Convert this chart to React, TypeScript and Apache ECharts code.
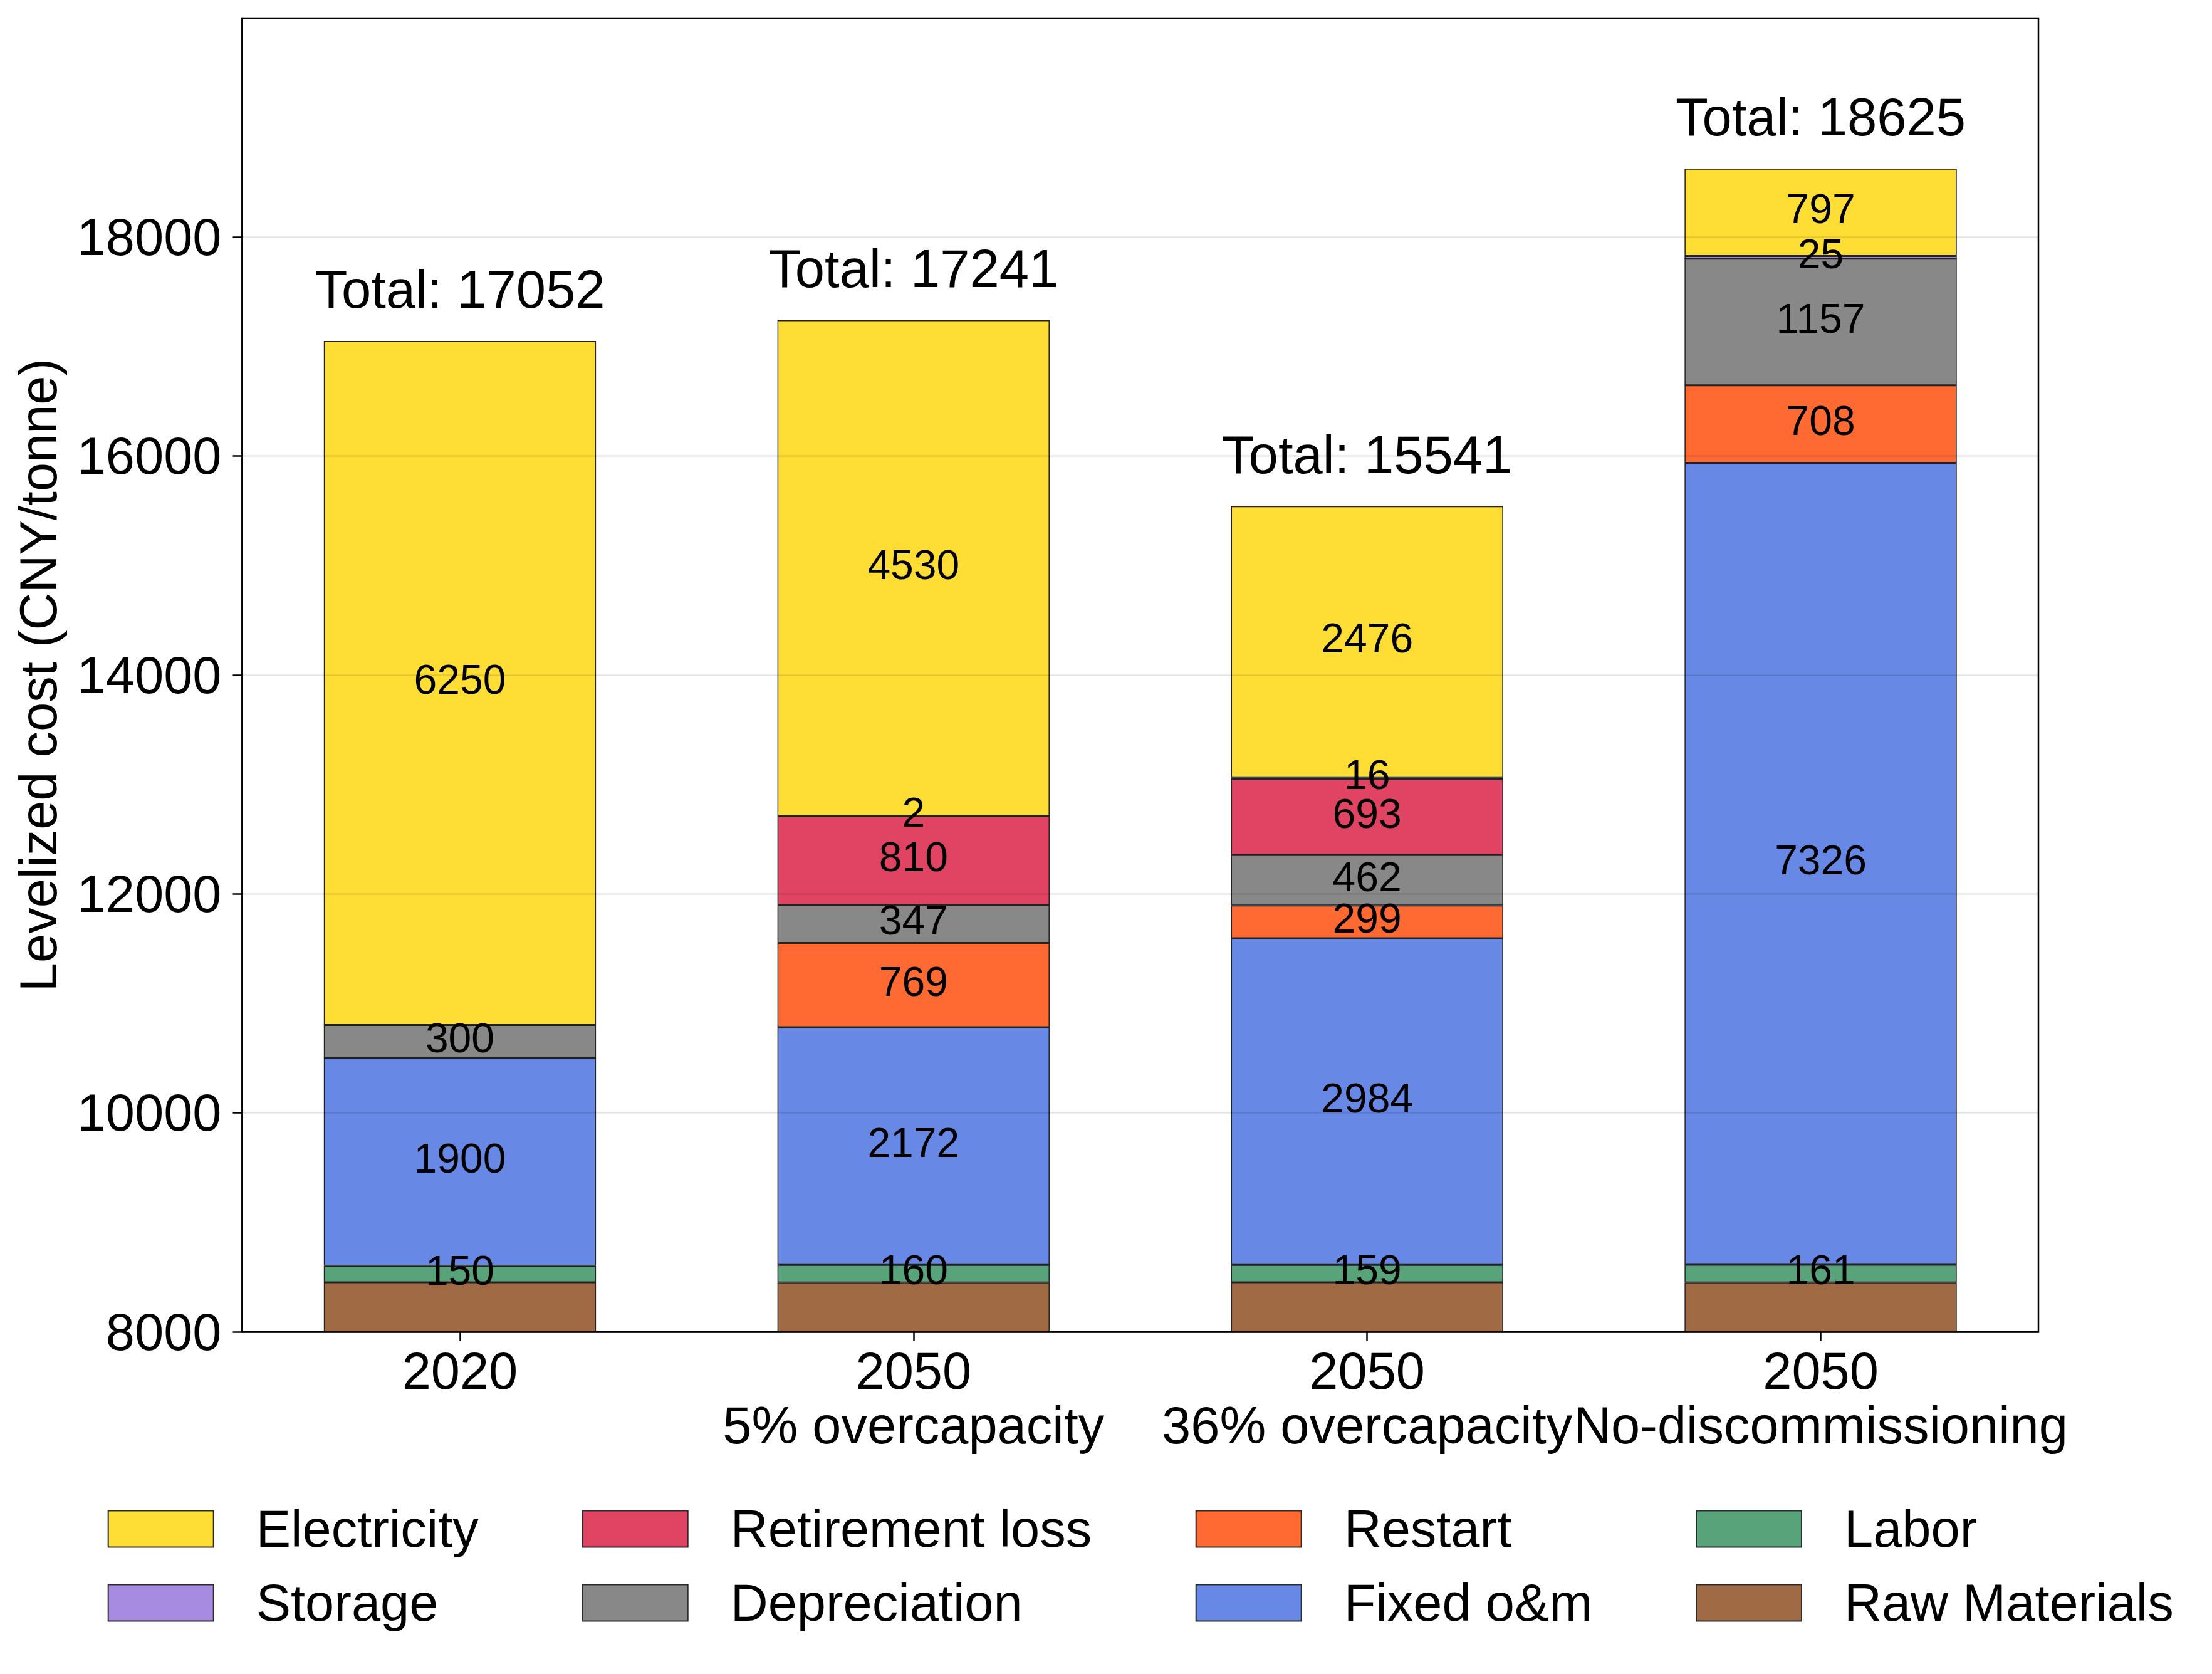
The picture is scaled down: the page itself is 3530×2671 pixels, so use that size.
import React, { useEffect, useRef } from "react";
import * as echarts from "echarts";

// ---- data ----
const categories = [
  "2020",
  "2050\n5% overcapacity",
  "2050\n36% overcapacity",
  "2050\nNo-discommissioning",
];
const rawMaterials = [8452, 8451, 8452, 8451];
const labor = [150, 160, 159, 161];
const fixedOM = [1900, 2172, 2984, 7326];
const restart = [0, 769, 299, 708];
const depreciation = [300, 347, 462, 1157];
const retirementLoss = [0, 810, 693, 0];
const storage = [0, 2, 16, 25];
const electricity = [6250, 4530, 2476, 797];

const yMin = 8000;
const yMax = 20000;
const yInterval = 2000;

// stack order bottom -> top
const stackSeries = [
  { name: "Raw Materials", values: rawMaterials, color: "#A06A44", showLabel: false },
  { name: "Labor", values: labor, color: "#58A37A", showLabel: true },
  { name: "Fixed o&m", values: fixedOM, color: "#6788E4", showLabel: true },
  { name: "Restart", values: restart, color: "#FE6A32", showLabel: true },
  { name: "Depreciation", values: depreciation, color: "#888888", showLabel: true },
  { name: "Retirement loss", values: retirementLoss, color: "#E04462", showLabel: true },
  { name: "Storage", values: storage, color: "#A78BE0", showLabel: true },
  { name: "Electricity", values: electricity, color: "#FEDE34", showLabel: true },
];

const legendColumns = [
  ["Electricity", "Storage"],
  ["Retirement loss", "Depreciation"],
  ["Restart", "Fixed o&m"],
  ["Labor", "Raw Materials"],
];

const FONT = "'Liberation Sans', Arial, Helvetica, sans-serif";

export default function App() {
  const ref = useRef<HTMLDivElement>(null);

  useEffect(() => {
    if (!ref.current) return;
    const chart = echarts.init(ref.current, null, { renderer: "svg" });

    const gridLeft = 386.5;
    const gridTop = 29;
    const gridWidth = 2866.5;
    const gridHeight = 2096;
    const xMin = -0.48;
    const xMax = 3.48;
    const barWidth = (0.6 * gridWidth) / (xMax - xMin);

    const totals = categories.map((_, i) =>
      stackSeries.reduce((s, ser) => s + ser.values[i], 0)
    );

    // data given as [value, position] so that the first (stacked) dimension is the y value
    const barSeries = stackSeries.map((ser) => ({
      name: ser.name,
      type: "bar",
      stack: "total",
      barWidth,
      encode: { x: 1, y: 0 },
      data: ser.values.map((v, i) => ({
        value: [v, i],
        label: { show: ser.showLabel && v > 0 },
      })),
      itemStyle: { color: ser.color, borderColor: "#222222", borderWidth: 1.5 },
      label: {
        show: ser.showLabel,
        position: "inside",
        offset: [0, -6],
        fontSize: 66,
        fontFamily: FONT,
        color: "#000000",
        textBorderWidth: 0,
        formatter: (p: any) => String(Math.round(p.value[0])),
      },
      emphasis: { disabled: true },
    }));

    // zero-height cap on each stack carrying the "Total" label
    const totalSeries = {
      name: "__total",
      type: "bar",
      stack: "total",
      barWidth,
      encode: { x: 1, y: 0 },
      data: totals.map((_, i) => [0, i]),
      itemStyle: { color: "rgba(0,0,0,0)", borderWidth: 0 },
      z: 10,
      label: {
        show: true,
        position: "top",
        distance: 40,
        fontSize: 85,
        lineHeight: 85,
        fontFamily: FONT,
        color: "#000000",
        opacity: 1,
        textBorderWidth: 0,
        formatter: (p: any) => "Total: " + totals[p.dataIndex],
      },
      emphasis: { disabled: true },
      silent: true,
    };

    const legendLefts = [171.7, 928.7, 1907.7, 2706];
    const legends = legendColumns.map((col, k) => ({
      show: true,
      orient: "vertical",
      left: legendLefts[k],
      top: 2398,
      padding: 0,
      itemWidth: 168,
      itemHeight: 58,
      itemGap: 35,
      icon: "rect",
      selectedMode: false,
      data: col,
      itemStyle: { borderColor: "#2b2b2b", borderWidth: 2 },
      textStyle: {
        fontSize: 83,
        lineHeight: 58,
        fontFamily: FONT,
        color: "#000",
        padding: [0, 0, 0, 63],
      },
    }));

    const option: any = {
      animation: false,
      backgroundColor: "#ffffff",
      textStyle: { fontFamily: FONT },
      grid: {
        left: gridLeft,
        top: gridTop,
        width: gridWidth,
        height: gridHeight,
        show: true,
        borderColor: "#000",
        borderWidth: 2.5,
        backgroundColor: "transparent",
        containLabel: false,
      },
      legend: legends,
      xAxis: {
        type: "value",
        min: xMin,
        max: xMax,
        splitLine: { show: false },
        axisLine: { show: true, onZero: false, lineStyle: { color: "#000", width: 2.5 } },
        axisTick: {
          show: true,
          customValues: [0, 1, 2, 3],
          length: 15,
          lineStyle: { color: "#000", width: 2.5 },
        },
        axisLabel: {
          show: true,
          customValues: [0, 1, 2, 3],
          formatter: (v: number) => categories[Math.round(v)],
          fontSize: 83,
          lineHeight: 87,
          margin: 19,
          color: "#000",
          fontFamily: FONT,
        },
        z: 4,
      },
      yAxis: {
        type: "value",
        min: yMin,
        max: yMax,
        interval: yInterval,
        name: "Levelized cost (CNY/tonne)",
        nameLocation: "middle",
        nameGap: 284,
        nameTextStyle: {
          fontSize: 83,
          lineHeight: 83,
          color: "#000",
          fontFamily: FONT,
        },
        axisLine: { show: true, onZero: false, lineStyle: { color: "#000", width: 2.5 } },
        axisTick: { show: true, length: 15, lineStyle: { color: "#000", width: 2.5 } },
        axisLabel: {
          showMaxLabel: false,
          fontSize: 83,
          margin: 33,
          color: "#000",
          fontFamily: FONT,
          formatter: (v: number) => String(v),
        },
        splitLine: {
          show: true,
          lineStyle: { color: "rgba(0,0,0,0.1)", width: 2.5 },
        },
        z: 3,
      },
      series: [...barSeries, totalSeries],
    };

    chart.setOption(option);
    return () => chart.dispose();
  }, []);

  return (
    <div
      ref={ref}
      style={{ position: "absolute", left: 0, top: 0, width: 3530, height: 2671 }}
    />
  );
}
